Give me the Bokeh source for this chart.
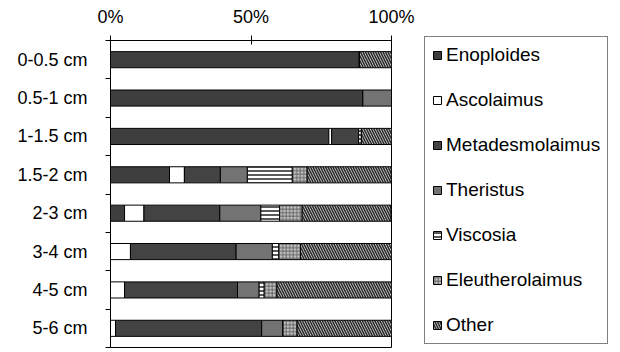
from bokeh.plotting import figure
from bokeh.models import Range1d, FixedTicker, Legend, LegendItem, ColumnDataSource
from bokeh.embed import file_html
from bokeh.resources import INLINE

depths = ["0-0.5 cm", "0.5-1 cm", "1-1.5 cm", "1.5-2 cm", "2-3 cm", "3-4 cm", "4-5 cm", "5-6 cm"]
taxa = ["Enoploides", "Ascolaimus", "Metadesmolaimus", "Theristus", "Viscosia", "Eleutherolaimus", "Other"]

enoploides      = [88.6, 89.8, 77.7, 21.0,  5.0,  0.0,  0.0,  0.0]
ascolaimus      = [ 0.0,  0.0,  1.0,  5.3,  6.9,  7.1,  5.0,  1.8]
metadesmolaimus = [ 0.0,  0.0,  9.6, 12.8, 27.0, 37.6, 40.2, 52.0]
theristus       = [ 0.0, 10.2,  0.0,  9.6, 14.6, 12.9,  7.7,  7.6]
viscosia        = [ 0.0,  0.0,  1.0, 16.0,  6.7,  2.3,  1.8,  0.0]
eleutherolaimus = [ 0.0,  0.0,  0.0,  5.3,  8.0,  7.7,  4.5,  5.0]
other           = [11.4,  0.0, 10.7, 29.9, 31.6, 32.4, 40.9, 33.6]

x_ticks = [0, 50, 100]
x_tick_labels = ["0%", "50%", "100%"]

FONT = "Liberation Sans"

ypos = [i + 0.5 for i in range(len(depths))]
source = ColumnDataSource(dict(
    y=ypos,
    Enoploides=enoploides, Ascolaimus=ascolaimus, Metadesmolaimus=metadesmolaimus,
    Theristus=theristus, Viscosia=viscosia, Eleutherolaimus=eleutherolaimus, Other=other,
))

p = figure(frame_width=281, frame_height=307, output_backend="svg", toolbar_location=None,
           x_axis_location="above",
           x_range=Range1d(0, 100), y_range=Range1d(8.0, 0),
           min_border_left=110, min_border_top=40, min_border_bottom=5, min_border_right=229)

fills = ["#3e3e3e", "white", "#434343", "#737373", "white", "#c4c4c4", "#dcdcdc"]
hatches = [" ", " ", " ", " ", "horizontal_line", "cross", "left_diagonal_line"]
hatch_colors = ["black", "black", "black", "black", "#222222", "#6a6a6a", "#2a2a2a"]
hatch_scales = [4, 4, 4, 4, 4, 3.5, 5]
hatch_weights = [1, 1, 1, 1, 1.5, 1.1, 1.6]

renderers = p.hbar_stack(taxa, y="y", height=0.42, source=source,
                         fill_color=fills, line_color="black", line_width=1,
                         hatch_pattern=hatches, hatch_color=hatch_colors,
                         hatch_scale=hatch_scales, hatch_weight=hatch_weights)

items = [LegendItem(label=t, renderers=[r]) for t, r in zip(taxa, renderers)]
legend = Legend(items=items, location=(33, 3),
                glyph_width=10, glyph_height=10, label_height=22, spacing=23,
                padding=7, label_standoff=4, margin=0,
                label_text_font=FONT, label_text_font_size="19px", label_text_color="black",
                border_line_color="black", border_line_width=1,
                background_fill_color="white", background_fill_alpha=1)
p.add_layout(legend, "right")

p.xgrid.visible = False
p.ygrid.visible = False
p.outline_line_color = "black"
p.outline_line_width = 1

xa = p.xaxis[0]
xa.ticker = FixedTicker(ticks=x_ticks)
xa.major_label_overrides = {t: l for t, l in zip(x_ticks, x_tick_labels)}
xa.major_tick_in = 4
xa.major_tick_out = 5
xa.minor_tick_line_color = None
xa.major_label_standoff = 9
xa.major_label_text_font = FONT
xa.major_label_text_font_size = "18px"
xa.major_label_text_color = "black"
xa.axis_line_color = "black"
xa.major_tick_line_color = "black"

ya = p.yaxis[0]
ya.ticker = FixedTicker(ticks=ypos, minor_ticks=list(range(len(depths) + 1)))
ya.major_label_overrides = {y: d for y, d in zip(ypos, depths)}
ya.major_tick_in = 0
ya.major_tick_out = 0
ya.major_tick_line_color = None
ya.minor_tick_in = 0
ya.minor_tick_out = 5
ya.minor_tick_line_color = "black"
ya.major_label_standoff = 18
ya.major_label_text_font = FONT
ya.major_label_text_font_size = "18px"
ya.major_label_text_color = "black"
ya.axis_line_color = "black"

open("out.html", "w").write(file_html(p, INLINE))
